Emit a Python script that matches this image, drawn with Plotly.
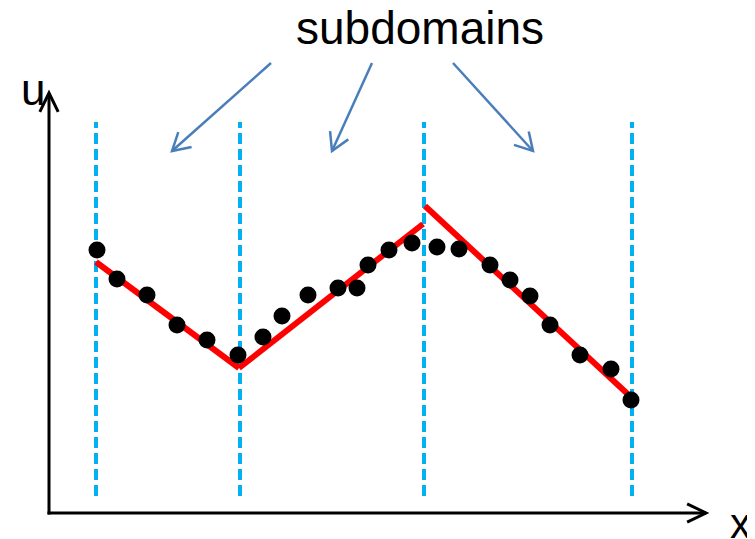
import math
import plotly.graph_objects as go

# ---- data (x to the right, u upwards) ----
boundaries_x = [47, 191, 375, 583]          # subdomain boundaries
boundary_u_range = [17, 391]

# piecewise-linear subdomain solutions (one segment per subdomain)
seg_x = [[47, 190], [190, 374], [376, 583]]
seg_u = [[251, 145], [145, 289], [307, 115]]

# sample points
pts_x = [48, 68, 98, 128, 158, 189, 214, 233, 259, 289, 308, 319, 340, 363,
         388, 410, 441, 461, 481, 501, 531, 562, 582]
pts_u = [263, 234, 218, 188, 173, 158, 176, 197, 218, 225, 225, 248, 263, 270,
         266, 264, 248, 233, 217, 188, 158, 144, 113]

# label arrows: (start, end)
label_text = "subdomains"
label_pos = (371, 485)
label_arrows = [((222, 450), (123, 362)),
                ((323, 450), (283, 362)),
                ((404, 450), (484, 362))]

axis_x_end = 657
axis_u_end = 420

fig = go.Figure()

shapes = []

# dashed boundaries
for bx in boundaries_x:
    shapes.append(dict(type="line", xref="x", yref="y", x0=bx, x1=bx,
                       y0=boundary_u_range[0], y1=boundary_u_range[1],
                       line=dict(color="#00b0f0", width=4, dash="11px,5px"),
                       layer="below"))


def arrow(p0, p1, color, width, head_len, head_ang):
    out = [dict(type="line", xref="x", yref="y", x0=p0[0], y0=p0[1],
                x1=p1[0], y1=p1[1], line=dict(color=color, width=width))]
    ang = math.atan2(p0[1] - p1[1], p0[0] - p1[0])
    pts = []
    for s in (-1, 1):
        a = ang + s * math.radians(head_ang)
        pts.append((p1[0] + head_len * math.cos(a), p1[1] + head_len * math.sin(a)))
    path = f"M {pts[0][0]},{pts[0][1]} L {p1[0]},{p1[1]} L {pts[1][0]},{pts[1][1]}"
    out.append(dict(type="path", xref="x", yref="y", path=path,
                    line=dict(color=color, width=width)))
    return out


# coordinate axes with arrow heads
shapes += arrow((0, -1.5), (0, axis_u_end), "black", 3, 21, 26)
shapes += arrow((-1.5, 0), (axis_x_end, 0), "black", 3, 21, 26)

# label arrows
for p0, p1 in label_arrows:
    shapes += arrow(p0, p1, "#4a7ebb", 2.5, 20, 30)

# red solution segments
for sx, su in zip(seg_x, seg_u):
    fig.add_trace(go.Scatter(x=sx, y=su, mode="lines",
                             line=dict(color="#ff0000", width=6),
                             hoverinfo="skip", showlegend=False))

# dots
fig.add_trace(go.Scatter(x=pts_x, y=pts_u, mode="markers",
                         marker=dict(color="black", size=17),
                         showlegend=False))

font_family = "Liberation Sans, Arial"
annotations = [
    dict(x=label_pos[0], y=label_pos[1], xref="x", yref="y", text=label_text,
         showarrow=False, font=dict(family=font_family, size=46, color="black"),
         xanchor="center", yanchor="middle"),
    dict(x=-16, y=424, xref="x", yref="y", text="u", showarrow=False,
         font=dict(family=font_family, size=44, color="black"),
         xanchor="center", yanchor="middle"),
    dict(x=691, y=-10, xref="x", yref="y", text="x", showarrow=False,
         font=dict(family=font_family, size=42, color="black"),
         xanchor="center", yanchor="middle"),
]

# the page body has an 8px margin, so the figure is 8px smaller and the
# ranges are shifted accordingly (1 data unit = 1 pixel on both axes)
fig.update_layout(
    width=747, height=531,
    margin=dict(l=0, r=0, t=0, b=0),
    paper_bgcolor="white", plot_bgcolor="white",
    xaxis=dict(range=[-41, 706], visible=False, fixedrange=True),
    yaxis=dict(range=[-26, 505], visible=False, fixedrange=True),
    shapes=shapes,
    annotations=annotations,
    showlegend=False,
)

fig.write_html("out.html")
